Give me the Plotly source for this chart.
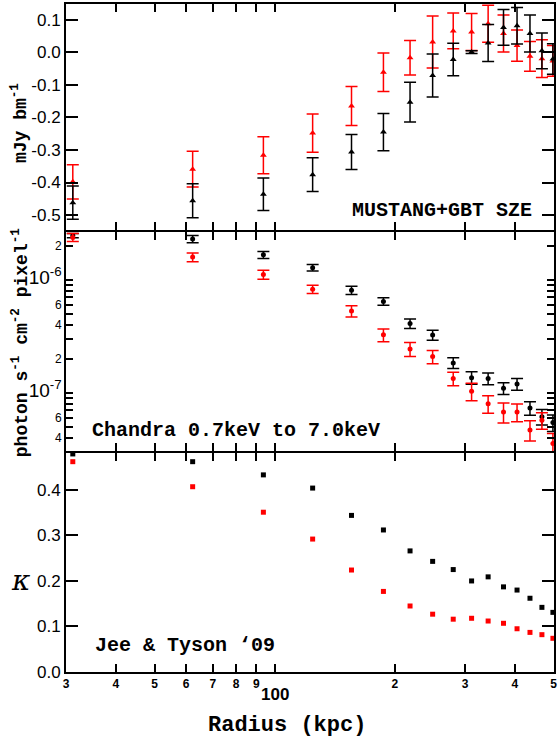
import math
import plotly.graph_objects as go

# Radial bins (kpc)
radius = [31.2, 62.3, 93.7, 124.5, 155.8, 187.3, 218.4, 248.8,
          280.2, 311.5, 342.7, 374.5, 404.9, 436.3, 467.4, 498.0]

# MUSTANG+GBT SZ decrement (mJy/beam)
sz_black = [-0.462, -0.456, -0.436, -0.376, -0.306, -0.245, -0.153, -0.071,
            -0.022, 0.001, 0.029, 0.077, 0.082, 0.058, 0.005, -0.020]
sz_black_err = [0.051, 0.052, 0.050, 0.052, 0.054, 0.057, 0.061, 0.066,
                0.050, 0.004, 0.057, 0.055, 0.056, 0.057, 0.055, 0.047]
sz_red = [-0.398, -0.359, -0.316, -0.248, -0.165, -0.061, -0.016, 0.032,
          0.066, 0.063, 0.088, 0.058, 0.021, -0.012, -0.019, -0.026]
sz_red_err = [0.053, 0.055, 0.057, 0.059, 0.060, 0.059, 0.053, 0.080,
              0.055, 0.057, 0.057, 0.057, 0.048, 0.046, 0.058, 0.047]

# Chandra 0.7-7.0 keV surface brightness (photon s^-1 cm^-2 pixel^-1)
xr_black = [2.45e-6, 2.29e-6, 1.656e-6, 1.274e-6, 8.05e-7, 6.41e-7, 4.08e-7, 3.23e-7,
            1.83e-7, 1.355e-7, 1.33e-7, 1.09e-7, 1.19e-7, 7.3e-8, 6.12e-8, 5.42e-8]
xr_black_err = [1.0e-7, 1.7e-7, 1.2e-7, 8.5e-8, 6.8e-8, 5.0e-8, 4.0e-8, 3.3e-8,
                2.0e-8, 1.7e-8, 1.6e-8, 1.3e-8, 1.4e-8, 1.0e-8, 9.5e-9, 9.0e-9]
xr_red = [2.36e-6, 1.58e-6, 1.107e-6, 8.22e-7, 5.27e-7, 3.24e-7, 2.43e-7, 2.08e-7,
          1.33e-7, 1.026e-7, 7.96e-8, 6.72e-8, 6.72e-8, 4.67e-8, 5.68e-8, 3.55e-8]
xr_red_err = [1.9e-7, 1.4e-7, 1.0e-7, 7.0e-8, 6.0e-8, 4.2e-8, 3.4e-8, 2.8e-8,
              1.8e-8, 1.8e-8, 1.4e-8, 1.35e-8, 1.2e-8, 9.5e-9, 9.5e-9, 8.0e-9]

# Weak-lensing convergence (Jee & Tyson 2009)
kappa_black = [0.479, 0.462, 0.433, 0.404, 0.344, 0.312, 0.266, 0.243,
               0.225, 0.200, 0.209, 0.187, 0.180, 0.162, 0.142, 0.131]
kappa_red = [0.462, 0.407, 0.351, 0.292, 0.224, 0.177, 0.145, 0.127,
             0.116, 0.118, 0.112, 0.107, 0.095, 0.087, 0.082, 0.074]

# Axis tick definitions
x_tickvals = [30, 40, 50, 60, 70, 80, 90, 100, 200, 300, 400, 500]
x_ticktext = ["3", "4", "5", "6", "7", "8", "9", "", "2", "3", "4", "5"]
sz_tickvals = [-0.5, -0.4, -0.3, -0.2, -0.1, 0.0, 0.1]
sz_ticktext = ["-0.5", "-0.4", "-0.3", "-0.2", "-0.1", "0.0", "0.1"]
xr_tickvals = [4e-8, 6e-8, 1e-7, 2e-7, 4e-7, 6e-7, 1e-6, 2e-6]
xr_ticktext = ["4", "6", "<span style='font-size:19px'>10<sup>-7</sup></span>",
               "2", "4", "6", "<span style='font-size:19px'>10<sup>-6</sup></span>", "2"]
xr_minor = [3e-8, 5e-8, 7e-8, 8e-8, 9e-8, 3e-7, 5e-7, 7e-7, 8e-7, 9e-7]
xr_decades = [1e-7, 1e-6]
k_tickvals = [0.0, 0.1, 0.2, 0.3, 0.4]
k_ticktext = ["0.0", "0.1", "0.2", "0.3", "0.4"]

RED = "#ff0000"
BLACK = "#000000"
MONO = "Liberation Mono, Courier New, monospace"
SANS = "Liberation Sans, Arial, sans-serif"

fig = go.Figure()


def err(arr, color):
    return dict(type="data", array=arr, visible=True, color=color, thickness=1.5, width=6)


# Top panel: SZE
for yv, ye, col in [(sz_red, sz_red_err, RED), (sz_black, sz_black_err, BLACK)]:
    fig.add_trace(go.Scatter(x=radius, y=yv, mode="markers", xaxis="x", yaxis="y",
                             marker=dict(symbol="triangle-up", size=6, color=col),
                             error_y=err(ye, col), showlegend=False))

# Middle panel: X-ray
for yv, ye, col in [(xr_black, xr_black_err, BLACK), (xr_red, xr_red_err, RED)]:
    fig.add_trace(go.Scatter(x=radius, y=yv, mode="markers", xaxis="x2", yaxis="y2",
                             marker=dict(symbol="circle", size=5, color=col),
                             error_y=err(ye, col), showlegend=False))

# Bottom panel: lensing
for yv, col in [(kappa_red, RED), (kappa_black, BLACK)]:
    fig.add_trace(go.Scatter(x=radius, y=yv, mode="markers", xaxis="x3", yaxis="y3",
                             marker=dict(symbol="square", size=5, color=col),
                             showlegend=False))

LW = 2
xrange = [math.log10(30), math.log10(500) + 0.001]
common_x = dict(type="log", range=xrange, showline=True, linewidth=LW, linecolor=BLACK,
                mirror="ticks", ticks="inside", ticklen=8, tickwidth=1.5, tickcolor=BLACK,
                tickvals=x_tickvals, ticktext=x_ticktext, showgrid=False, zeroline=False)
common_y = dict(showline=True, linewidth=LW, linecolor=BLACK, mirror="ticks",
                ticks="inside", ticklen=12, tickwidth=1.5, tickcolor=BLACK,
                showgrid=False, zeroline=False, tickfont=dict(family=SANS, size=17, color=BLACK))

# Panel domains; a line-width gap lets neighbouring border lines coincide
plot_h = 738 - 4 - 66
gap = (LW / 2) / plot_h
d_bot = [0.0, 0.3293 - gap]
d_mid = [0.3293 + gap, 0.6602 - gap]
d_top = [0.6602 + gap, 1.0]

fig.update_layout(
    width=558, height=738,
    margin=dict(l=66, r=2, t=4, b=66),
    paper_bgcolor="white", plot_bgcolor="white",
    font=dict(family=SANS, color=BLACK),
    xaxis=dict(common_x, anchor="y", showticklabels=False),
    xaxis2=dict(common_x, anchor="y2", showticklabels=False),
    xaxis3=dict(common_x, anchor="y3", showticklabels=True,
                tickfont=dict(family=SANS, size=12, color=BLACK, weight="bold")),
    yaxis=dict(common_y, domain=d_top, anchor="x", range=[-0.546, 0.149],
               tickvals=sz_tickvals, ticktext=sz_ticktext),
    yaxis2=dict(common_y, domain=d_mid, anchor="x2", type="log",
                range=[-7.5175, -5.579], tickvals=xr_tickvals, ticktext=xr_ticktext,
                ticklen=7, tickfont=dict(family=SANS, size=12, color=BLACK),
                minor=dict(tickvals=xr_minor, ticks="inside", ticklen=7,
                           tickwidth=1.5, tickcolor=BLACK)),
    yaxis3=dict(common_y, domain=d_bot, anchor="x3", range=[0, 0.481],
                tickvals=k_tickvals, ticktext=k_ticktext),
)

# Longer ticks at the decades of the log axis, on both sides
for dec in xr_decades:
    for x0, x1 in [(0, 13 / 490), (1 - 13 / 490, 1)]:
        fig.add_shape(type="line", xref="paper", yref="y2", x0=x0, x1=x1,
                      y0=math.log10(dec), y1=math.log10(dec),
                      line=dict(color=BLACK, width=1.5))

ann_font = dict(family=MONO, size=20, color=BLACK, weight="bold")
annotations = [
    dict(text="MUSTANG+GBT SZE", x=0.581, y=0.6906, xanchor="left", yanchor="middle", font=ann_font),
    dict(text="Chandra 0.7keV to 7.0keV", x=0.049, y=0.3608, xanchor="left", yanchor="middle", font=ann_font),
    dict(text="Jee &amp; Tyson \u201809", x=0.0551, y=0.0394, xanchor="left", yanchor="middle", font=ann_font),
    dict(text="Radius (kpc)", x=0.453, y=-0.0795, xanchor="center", yanchor="middle",
         font=dict(family=MONO, size=22, color=BLACK, weight="bold")),
    dict(text="mJy bm<sup>-1</sup>", x=-0.0939, y=0.822, textangle=-90, xanchor="center", yanchor="middle",
         font=dict(family=MONO, size=18, color=BLACK, weight="bold")),
    dict(text="photon s<sup>-1</sup> cm<sup>-2</sup> pixel<sup>-1</sup>", x=-0.0939, y=0.4925,
         textangle=-90, xanchor="center", yanchor="middle",
         font=dict(family=MONO, size=18, color=BLACK, weight="bold")),
    dict(text="<i>\u03ba</i>", x=-0.094, y=0.1377, xanchor="center", yanchor="middle",
         font=dict(family="DejaVu Serif, serif", size=28, color=BLACK)),
]
for a in annotations:
    fig.add_annotation(xref="paper", yref="paper", showarrow=False, **a)

# Major label at 100 kpc sits below the minor digits
fig.add_annotation(xref="x3", yref="paper", x=2, y=-0.0344, text="100", showarrow=False,
                   xanchor="center", yanchor="middle",
                   font=dict(family=SANS, size=17, color=BLACK, weight="bold"))

fig.write_html("out.html")
